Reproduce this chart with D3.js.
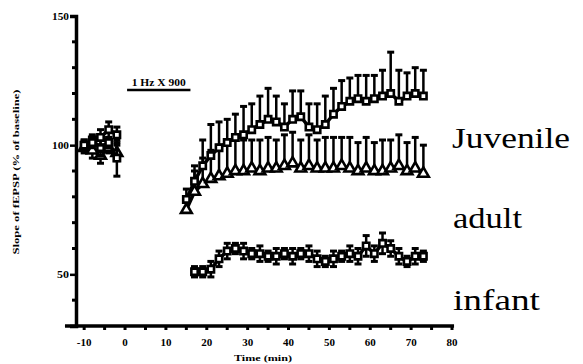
<!DOCTYPE html>
<html>
<head>
<meta charset="utf-8">
<script src="https://cdn.jsdelivr.net/npm/d3@7"></script>
<style>
  body { margin: 0; background: #fff; }
  svg { display: block; }
</style>
</head>
<body>
<div id="chart"></div>
<script>
// Baseline (before stimulation)
const baseTimes = [-10, -8, -6, -4, -2];
const juvBase = [100, 101, 103, 106, 104];
const juvBaseErr = [2, 2, 3, 3, 3];
const adultBase = [99, 98, 96, 99, 97];
const adultBaseErr = [2, 3, 3, 2, 3];
const infantBase = [100, 102, 99, 101, 95];
const infantBaseErr = [2, 2, 3, 2, 7];

// After 1 Hz x 900 stimulation
const postTimes = [15, 17, 19, 21, 23, 25, 27, 29, 31, 33, 35, 37, 39, 41, 43, 45, 47, 49, 51, 53, 55, 57, 59, 61, 63, 65, 67, 69, 71, 73];
const juvPost = [79, 86, 92, 96, 99, 101, 103, 104, 106, 108, 110, 109, 107, 110, 111, 107, 106, 108, 112, 115, 117, 118, 117, 118, 119, 120, 117, 119, 120, 119];
const juvErr = [4, 6, 10, 12, 10, 9, 9, 11, 10, 11, 12, 10, 9, 11, 10, 9, 10, 11, 10, 10, 9, 9, 10, 9, 10, 16, 12, 9, 10, 10];
const adultPost = [75, 82, 85, 87, 88, 89, 90, 90, 91, 90, 91, 91, 92, 93, 91, 92, 91, 91, 91, 92, 91, 90, 91, 90, 90, 91, 92, 90, 91, 89];
const adultErr = [5, 8, 10, 11, 12, 11, 12, 12, 11, 12, 12, 11, 12, 12, 11, 12, 11, 12, 12, 11, 12, 11, 12, 11, 12, 11, 12, 11, 12, 11];
const infantTimes = [17, 19, 21, 23, 25, 27, 29, 31, 33, 35, 37, 39, 41, 43, 45, 47, 49, 51, 53, 55, 57, 59, 61, 63, 65, 67, 69, 71, 73];
const infantPost = [51, 51, 52, 56, 59, 60, 59, 58, 58, 57, 57, 58, 57, 58, 58, 56, 55, 56, 57, 58, 57, 61, 58, 62, 60, 57, 55, 57, 57];
const infantErr = [2, 2, 3, 3, 3, 2, 3, 2, 3, 2, 3, 2, 3, 2, 3, 3, 2, 3, 2, 3, 3, 4, 3, 4, 3, 3, 2, 3, 2];

const xTicks = [-10, 0, 10, 20, 30, 40, 50, 60, 70, 80];
const yTicks = [50, 100, 150];

const serif = "'Liberation Serif', 'Times New Roman', Times, serif";
const width = 583, height = 364;
const svg = d3.select("#chart").append("svg")
    .attr("width", width)
    .attr("height", height)
    .attr("font-family", serif);

const x = d3.scaleLinear().domain([-12, 80]).range([76, 452]);
const y = d3.scaleLinear().domain([30, 150]).range([326, 16]);

// axes
const yAxis = svg.append("g")
    .attr("transform", "translate(" + x(-12) + ",0)")
    .call(d3.axisLeft(y).tickValues(yTicks).tickSize(6).tickPadding(1).tickFormat(d3.format("d")));
yAxis.attr("font-family", serif);
yAxis.select(".domain").attr("stroke-width", 3.5);
yAxis.selectAll(".tick line").attr("stroke-width", 2.5);
yAxis.selectAll(".tick text").attr("font-size", 11).attr("font-weight", "bold")
    .attr("textLength", d => d >= 100 ? 17 : 12).attr("lengthAdjust", "spacingAndGlyphs");

svg.append("g")
    .selectAll("line")
    .data(d3.range(40, 150, 10).filter(d => yTicks.indexOf(d) < 0))
    .join("line")
    .attr("x1", x(-12) - 4).attr("x2", x(-12))
    .attr("y1", d => y(d)).attr("y2", d => y(d))
    .attr("stroke", "#000").attr("stroke-width", 3);

svg.append("line")
    .attr("x1", x(-14.7)).attr("x2", x(80.5))
    .attr("y1", y(30)).attr("y2", y(30))
    .attr("stroke", "#000").attr("stroke-width", 3.5);

svg.append("g")
    .selectAll("line")
    .data(d3.range(-10, 81, 5))
    .join("line")
    .attr("x1", d => x(d)).attr("x2", d => x(d))
    .attr("y1", y(30)).attr("y2", y(30) + 4)
    .attr("stroke", "#000").attr("stroke-width", 3);

svg.append("g")
    .selectAll("text")
    .data(xTicks)
    .join("text")
    .attr("x", d => x(d))
    .attr("y", y(30) + 20)
    .attr("text-anchor", "middle")
    .attr("font-size", 11)
    .attr("font-weight", "bold")
    .text(d => d);

svg.append("text")
    .attr("x", 263).attr("y", 361)
    .attr("text-anchor", "middle")
    .attr("font-size", 9).attr("font-weight", "bold")
    .attr("textLength", 58).attr("lengthAdjust", "spacingAndGlyphs")
    .text("Time (min)");

svg.append("text")
    .attr("transform", "translate(19,172) rotate(-90)")
    .attr("text-anchor", "middle")
    .attr("font-size", 9).attr("font-weight", "bold")
    .attr("textLength", 165).attr("lengthAdjust", "spacingAndGlyphs")
    .text("Slope of fEPSP (% of baseline)");

// stimulation bar
svg.append("line")
    .attr("x1", x(0.5)).attr("x2", x(16))
    .attr("y1", 90).attr("y2", 90)
    .attr("stroke", "#000").attr("stroke-width", 2.5);
svg.append("text")
    .attr("x", (x(0.5) + x(16)) / 2).attr("y", 86)
    .attr("text-anchor", "middle")
    .attr("font-size", 10).attr("font-weight", "bold")
    .attr("textLength", 54).attr("lengthAdjust", "spacingAndGlyphs")
    .text("1 Hz X 900");

// series
const lineGen = d3.line().x(d => x(d.t)).y(d => y(d.v));

function zipSeries(ts, vs, es) {
    return ts.map((t, i) => ({ t: t, v: vs[i], e: es[i] }));
}

function drawSeries(pts, marker, upOnly) {
    const g = svg.append("g");
    g.append("path")
        .datum(pts)
        .attr("d", lineGen)
        .attr("fill", "none")
        .attr("stroke", "#000")
        .attr("stroke-width", 3.5);
    g.selectAll("line.bar")
        .data(pts)
        .join("line")
        .attr("class", "bar")
        .attr("x1", d => x(d.t)).attr("x2", d => x(d.t))
        .attr("y1", d => upOnly ? y(d.v) : y(d.v - d.e))
        .attr("y2", d => y(d.v + d.e))
        .attr("stroke", "#000").attr("stroke-width", 2.5);
    g.selectAll("line.capTop")
        .data(pts)
        .join("line")
        .attr("class", "capTop")
        .attr("x1", d => x(d.t) - 3.5).attr("x2", d => x(d.t) + 3.5)
        .attr("y1", d => y(d.v + d.e)).attr("y2", d => y(d.v + d.e))
        .attr("stroke", "#000").attr("stroke-width", 3);
    if (!upOnly) {
        g.selectAll("line.capBot")
            .data(pts)
            .join("line")
            .attr("class", "capBot")
            .attr("x1", d => x(d.t) - 3.5).attr("x2", d => x(d.t) + 3.5)
            .attr("y1", d => y(d.v - d.e)).attr("y2", d => y(d.v - d.e))
            .attr("stroke", "#000").attr("stroke-width", 3);
    }
    const sym = d3.symbol().type(marker === "square" ? d3.symbolSquare : d3.symbolTriangle).size(marker === "square" ? 40 : 50);
    g.selectAll("path.mark")
        .data(pts)
        .join("path")
        .attr("class", "mark")
        .attr("transform", d => "translate(" + x(d.t) + "," + y(d.v) + ")")
        .attr("d", sym)
        .attr("fill", "#fff")
        .attr("stroke", "#000")
        .attr("stroke-width", 2.6);
}

drawSeries(zipSeries(baseTimes, adultBase, adultBaseErr), "triangle", false);
drawSeries(zipSeries(baseTimes, infantBase, infantBaseErr), "square", false);
drawSeries(zipSeries(baseTimes, juvBase, juvBaseErr), "square", false);

drawSeries(zipSeries(postTimes, adultPost, adultErr), "triangle", true);
drawSeries(zipSeries(postTimes, juvPost, juvErr), "square", true);
drawSeries(zipSeries(infantTimes, infantPost, infantErr), "square", false);

// labels
const labels = [
    { name: "Juvenile", x: 452, y: 148, w: 118 },
    { name: "adult", x: 453, y: 228, w: 69 },
    { name: "infant", x: 453, y: 310, w: 87 }
];
svg.append("g")
    .selectAll("text")
    .data(labels)
    .join("text")
    .attr("x", d => d.x).attr("y", d => d.y)
    .attr("font-size", 29)
    .attr("textLength", d => d.w).attr("lengthAdjust", "spacingAndGlyphs")
    .text(d => d.name);
</script>
</body>
</html>
